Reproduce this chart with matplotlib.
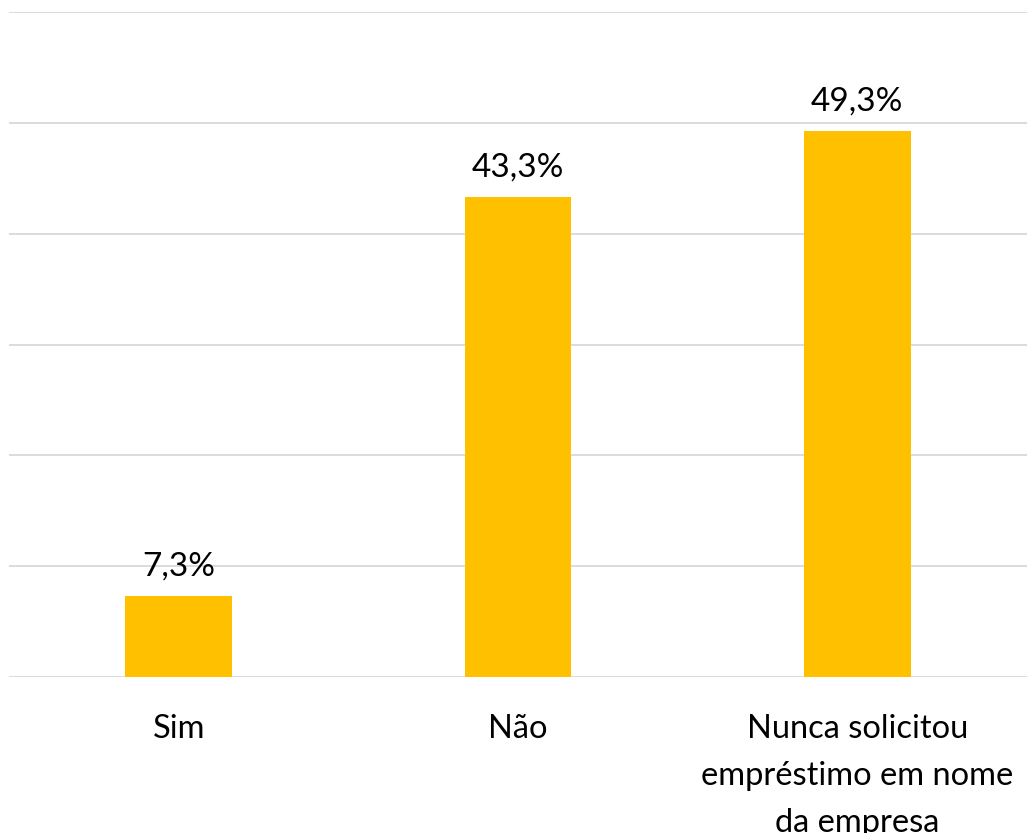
import matplotlib
matplotlib.use("Agg")
import matplotlib.pyplot as plt

categories = ["Sim", "Não", "Nunca solicitou\nempréstimo em nome\nda empresa"]
values = [7.3, 43.3, 49.3]
labels = ["7,3%", "43,3%", "49,3%"]

plt.rcParams['font.family'] = ['Lato', 'DejaVu Sans']

fig = plt.figure(figsize=(10.35, 8.33), dpi=100)
ax = fig.add_axes([9/1035, 1 - 677/833, (1027 - 9)/1035, (677 - 12)/833])

x = range(len(categories))
ax.bar(x, values, width=0.315, color="#FFC000", zorder=3)
for xi, v, lab in zip(x, values, labels):
    ax.text(xi, v + 1.3, lab, ha="center", va="bottom", fontsize=24, color="#000000")

ax.set_xlim(-0.5, 2.5)
ax.set_ylim(0, 60)
ax.set_yticks(range(0, 61, 10))
ax.yaxis.grid(True, color="#D9D9D9", linewidth=1.3, zorder=0)
ax.tick_params(axis="y", left=False, labelleft=False)
ax.tick_params(axis="x", bottom=False, labelsize=23.5, pad=23)
ax.set_xticks(list(x))
ax.set_xticklabels(categories, linespacing=1.72)
for s in ax.spines.values():
    s.set_visible(False)

fig.savefig("out.png", dpi=100)
